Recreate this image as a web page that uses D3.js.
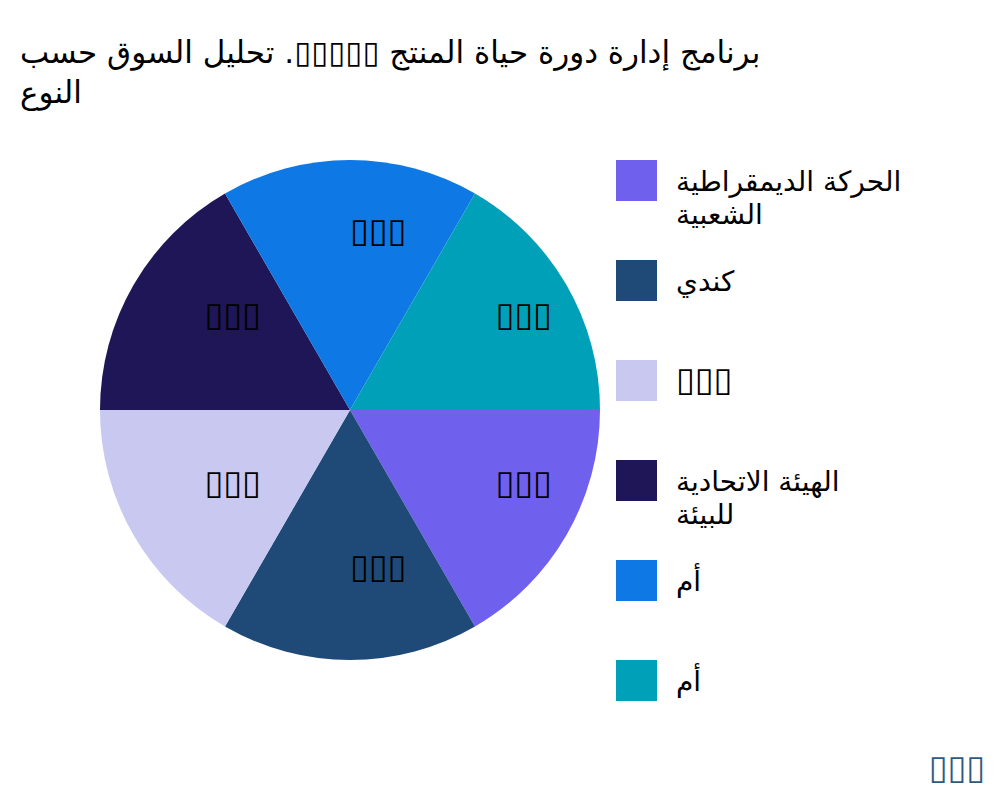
<!DOCTYPE html>
<html lang="ar">
<head>
<meta charset="UTF-8">
<title>Pie chart</title>
<script src="https://d3js.org/d3.v7.min.js"></script>
<style>
    body { margin: 0; background: #fff; }
    svg { display: block; }
    text { font-family: "DejaVu Sans", sans-serif; }
</style>
</head>
<body>
<svg width="1000" height="800"></svg>
<script>
    // data
    const titleLines = ["برنامج إدارة دورة حياة المنتج ▯▯▯▯▯. تحليل السوق حسب", "النوع"];
    const categories = [
        ["الحركة الديمقراطية", "الشعبية"],
        ["كندي"],
        ["▯▯▯"],
        ["الهيئة الاتحادية", "للبيئة"],
        ["أم"],
        ["أم"]
    ];
    const values = [1, 1, 1, 1, 1, 1];
    const sliceLabels = ["▯▯▯", "▯▯▯", "▯▯▯", "▯▯▯", "▯▯▯", "▯▯▯"];
    const colors = ["#7060ee", "#1f4a78", "#c8c8f0", "#1e1656", "#0e78e4", "#00a0b8"];
    const footNote = "▯▯▯";

    const svg = d3.select("svg");
    const cx = 350, cy = 410, R = 250;

    // title
    svg.append("text")
        .attr("x", 20).attr("y", 63)
        .attr("font-size", 31)
        .selectAll("tspan")
        .data(titleLines)
        .enter().append("tspan")
        .attr("x", 20)
        .attr("dy", (d, i) => i === 0 ? 0 : 40)
        .text(d => d);

    // pie
    const pie = d3.pie().sort(null).startAngle(Math.PI / 2).endAngle(Math.PI / 2 + 2 * Math.PI);
    const arcs = pie(values);
    const arc = d3.arc().innerRadius(0).outerRadius(R);
    const labelArc = d3.arc().innerRadius(168).outerRadius(168);

    const g = svg.append("g").attr("transform", "translate(" + cx + "," + cy + ")");
    g.selectAll("path")
        .data(arcs)
        .enter().append("path")
        .attr("d", arc)
        .attr("fill", (d, i) => colors[i]);

    g.selectAll("text.lbl")
        .data(arcs)
        .enter().append("text")
        .attr("class", "lbl")
        .attr("x", d => labelArc.centroid(d)[0])
        .attr("y", d => labelArc.centroid(d)[1])
        .attr("font-size", 34)
        .attr("fill", "#000")
        .text((d, i) => sliceLabels[i]);

    // legend
    const legend = svg.append("g");
    const items = legend.selectAll("g")
        .data(categories)
        .enter().append("g")
        .attr("transform", (d, i) => "translate(616," + (160 + i * 100) + ")");
    items.append("rect")
        .attr("width", 41).attr("height", 41)
        .attr("fill", (d, i) => colors[i]);
    items.append("text")
        .attr("x", 60).attr("y", 31)
        .attr("font-size", 28)
        .selectAll("tspan")
        .data(d => d)
        .enter().append("tspan")
        .attr("x", 60)
        .attr("dy", (d, i) => i === 0 ? 0 : 33)
        .attr("font-size", d => d.startsWith("▯") ? 34 : 28)
        .text(d => d);

    // footnote
    svg.append("text")
        .attr("x", 985).attr("y", 779)
        .attr("text-anchor", "end")
        .attr("font-size", 34)
        .attr("fill", "#2e5a80")
        .text(footNote);
</script>
</body>
</html>
